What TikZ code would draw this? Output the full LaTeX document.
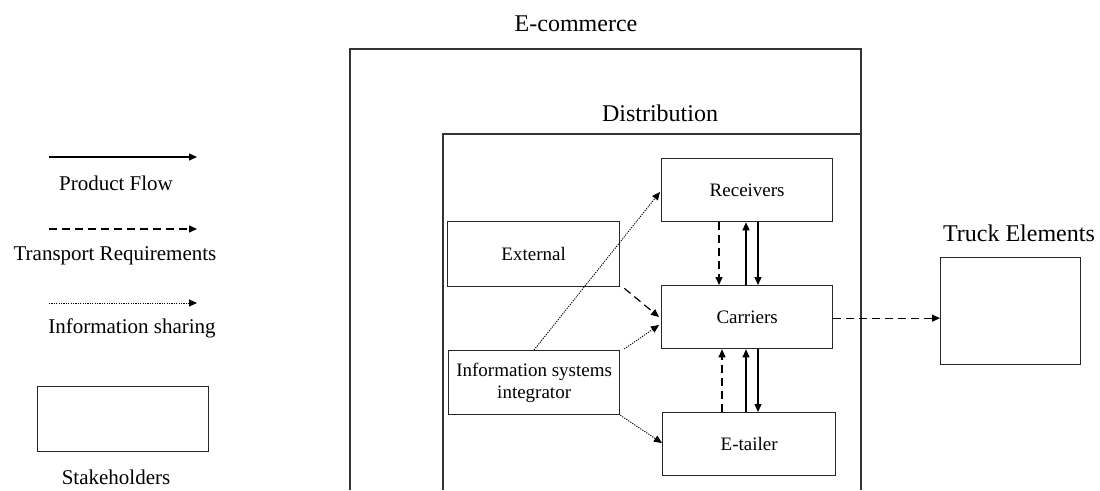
\documentclass[tikz,border=0pt]{standalone}
\usepackage{fontspec}
\setmainfont{Liberation Serif}
\usetikzlibrary{arrows.meta,calc}

\begin{document}
\begin{tikzpicture}[x=1pt,y=-1pt,
  frame/.style={draw=black!80, line width=1.4pt},
  box/.style={draw=black!85, line width=1.3pt, inner sep=0pt, anchor=north west,
              font=\fontsize{19}{22}\selectfont, align=center},
  lbl/.style={inner sep=0pt, font=\fontsize{21}{24}\selectfont},
  title/.style={inner sep=0pt, font=\fontsize{24}{28}\selectfont},
  tip/.style={-{Triangle[length=8pt,width=7pt]}},
  flow/.style={tip, line width=1.2pt},
  req/.style={tip, line width=1.2pt, dash pattern=on 8pt off 5pt},
  info/.style={tip, line width=0.9pt, dash pattern=on 1.2pt off 1.2pt},
]
\useasboundingbox (0,0) rectangle (1100,490);

% ---- legend ----
\coordinate (pfA) at (49,157);  \coordinate (pfB) at (197,157);
\coordinate (trA) at (49,229);  \coordinate (trB) at (197,229);
\coordinate (isA) at (49,303);  \coordinate (isB) at (197,303);
\draw[flow] (pfA) -- (pfB);
\draw[req]  (trA) -- (trB);
\draw[info] (isA) -- (isB);
\node[lbl] (pfL) at (116,183) {Product Flow};
\node[lbl] (trL) at (115,256) {Transport Requirements};
\node[lbl] (isL) at (132,328) {Information sharing};
\node[box, minimum width=171pt, minimum height=65pt] (stk) at (37,386) {};
\node[lbl] (stkL) at (116,477) {Stakeholders};

% ---- nested domains ----
\draw[frame] (350,490) |- (861,49) -- (861,490);
\draw[frame] (443,490) |- (861,134);
\node[title] (ecom) at (576,24) {E-commerce};
\node[title] (dist) at (660,113) {Distribution};

% ---- stakeholders ----
\node[box, minimum width=171pt, minimum height=63pt] (rec) at (661,158) {Receivers};
\node[box, minimum width=171pt, minimum height=63pt] (car) at (661,285) {Carriers};
\node[box, minimum width=173pt, minimum height=63pt] (et)  at (662,412) {E-tailer};
\node[box, minimum width=172pt, minimum height=65pt] (ext) at (447,221) {External};
\node[box, minimum width=171pt, minimum height=64pt] (isi) at (448,350) {Information systems\\integrator};

\node[box, minimum width=140pt, minimum height=107pt] (trk) at (940,257) {};
\node[title] (trkL) at (1019,233) {Truck Elements};

% ---- receivers / carriers ----
\draw[req]  ($(rec.south west)+(58,0)$) -- ($(car.north west)+(58,0)$);
\draw[flow] ($(car.north west)+(85,0)$) -- ($(rec.south west)+(85,0)$);
\draw[flow] ($(rec.south west)+(97,0)$) -- ($(car.north west)+(97,0)$);

% ---- carriers / e-tailer ----
\draw[req]  ($(et.north west)+(60,0)$) -- ($(car.south west)+(61,0)$);
\draw[flow] ($(et.north west)+(84,0)$) -- ($(car.south west)+(85,0)$);
\draw[flow] ($(car.south west)+(97,0)$) -- ($(et.north west)+(96,0)$);

% ---- external and integrator ----
\draw[req]  ($(ext.south east)+(4,1)$) -- ($(car.north west)+(-2,32)$);
\draw[info] ($(isi.north west)+(86,0)$) -- ($(rec.north west)+(-1,34)$);
\draw[info] ($(isi.north east)+(4,-1)$) -- ($(car.north west)+(-2,40)$);
\draw[info] (isi.south east) -- ($(et.north west)+(0,31)$);

% ---- carriers to truck ----
\draw[req] ($(car.east)+(0,1)$) -- ($(trk.west)+(0,7)$);
\end{tikzpicture}
\end{document}
